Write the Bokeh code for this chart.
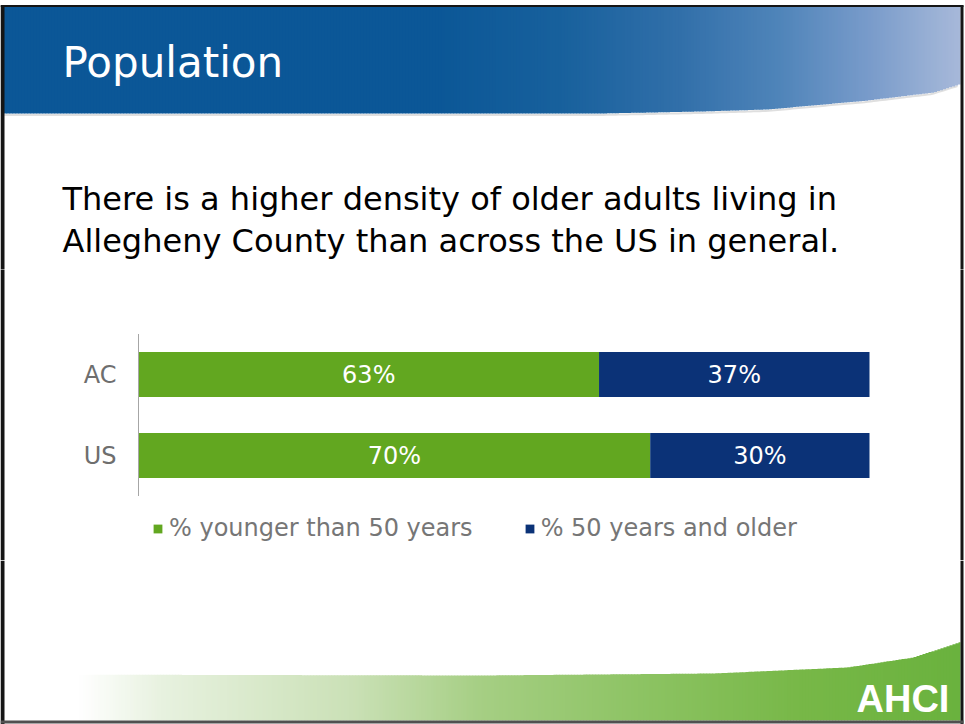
import numpy as np
from bokeh.plotting import figure
from bokeh.models import (Range1d, FactorRange, Legend, LegendItem, ColumnDataSource,
                          CategoricalAxis)
from bokeh.layouts import column
from bokeh.core.properties import value
from bokeh.embed import file_html
from bokeh.resources import INLINE

# ---------------- data ----------------
categories = ["AC", "US"]
younger = [63, 70]
older = [37, 30]
series_labels = ["% younger than 50 years", "% 50 years and older"]
title_text = "Population"
subtitle_lines = [
    "There is a higher density of older adults living in",
    "Allegheny County than across the US in general.",
]
logo_text = "AHCI"

# ---------------- style ----------------
GREEN = "#62a720"
NAVY = "#0b3277"
FONT = "DejaVu Sans"
W = 965
BORDER = "#151515"


def blank(h, y_top, y_bottom):
    p = figure(width=W, height=h, x_range=Range1d(0, W),
               y_range=Range1d(y_bottom, y_top),
               output_backend="svg", toolbar_location=None,
               x_axis_location=None, y_axis_location=None, min_border=0,
               frame_align=False)
    p.outline_line_color = None
    for g in p.grid:
        g.visible = False
    p.background_fill_color = "white"
    p.border_fill_color = "white"
    return p


def interp_colors(xs, stop_x, stop_c):
    arr = np.array(stop_c, dtype=float)
    r = np.interp(xs, stop_x, arr[:, 0])
    g = np.interp(xs, stop_x, arr[:, 1])
    b = np.interp(xs, stop_x, arr[:, 2])
    return ["#%02x%02x%02x" % (int(a), int(c), int(d)) for a, c, d in zip(r, g, b)]


src = ColumnDataSource(dict(
    cat=categories,
    young=younger,
    total=[a + b for a, b in zip(younger, older)],
    young_mid=[a / 2 for a in younger],
    old_mid=[a + b / 2 for a, b in zip(younger, older)],
    young_lbl=["%d%%" % v for v in younger],
    old_lbl=["%d%%" % v for v in older],
))

# ---------------- header (page rows 0..269) ----------------
HDR_H = 269
hdr = blank(HDR_H, 0, HDR_H)
step = 3.0
hx = np.arange(3, 960, step)
hcol = interp_colors(hx + step / 2,
                     [0, 430, 560, 680, 780, 870, 965],
                     [(11, 87, 151), (11, 87, 151), (24, 97, 157), (50, 112, 170),
                      (80, 133, 186), (122, 156, 203), (170, 187, 219)])
hbot = np.interp(hx + step / 2, [0, 600, 700, 767, 867, 933, 965],
                 [113, 113, 111, 109, 100, 92, 82])
hdr.line(x=hx, y=hbot + 1.5, line_color="#bfbfbf", line_alpha=0.5, line_width=2)
hdr.quad(left=hx, right=np.minimum(hx + step + 0.6, 960), top=np.full_like(hx, 6.5),
         bottom=hbot, fill_color=hcol, line_color=None)
hdr.text(x=[62], y=[62], text=[title_text], text_font=value(FONT),
         text_font_size="42px", text_color="white", text_baseline="alphabetic")
hdr.text(x=[62, 62], y=[198, 240], text=subtitle_lines, text_font=value(FONT),
         text_font_size="32px", text_color="#000000", text_baseline="alphabetic")
hdr.segment(x0=[2, 961.5, 0], y0=[5, 5, 5.5], x1=[2, 961.5, 963],
            y1=[HDR_H, HDR_H, 5.5], line_color=BORDER, line_width=[4, 3, 2])

# ---------------- chart (page rows 269..560) ----------------
CH_TOP, CH_BOT = 269, 560
PXPP = (869 - 138) / 100.0          # pixels per percentage point
CAT_PX = 81.0                        # pixels per category band
ch = figure(width=W, height=CH_BOT - CH_TOP,
            x_range=Range1d(-138 / PXPP, 100 + (W - 869) / PXPP),
            y_range=FactorRange(factors=categories[::-1],
                                range_padding=((CH_BOT - CH_TOP) / CAT_PX - 2) / 2),
            output_backend="svg", toolbar_location=None,
            x_axis_location=None, y_axis_location=None, min_border=0,
            frame_align=False)
ch.outline_line_color = None
for g in ch.grid:
    g.visible = False
ch.background_fill_color = "white"
ch.border_fill_color = "white"
ch.extra_x_ranges = {"px": Range1d(0, W)}

r1 = ch.hbar(y="cat", left=0, right="young", height=0.556, fill_color=GREEN,
             line_color=None, source=src)
r2 = ch.hbar(y="cat", left="young", right="total", height=0.556, fill_color=NAVY,
             line_color=None, source=src)
ch.text(x="young_mid", y="cat", text="young_lbl", source=src, text_font=value(FONT),
        text_font_size="24px", text_color="white", text_align="center",
        text_baseline="middle")
ch.text(x="old_mid", y="cat", text="old_lbl", source=src, text_font=value(FONT),
        text_font_size="24px", text_color="white", text_align="center",
        text_baseline="middle")

# value-axis baseline spanning the two category bands (synthetic 0..2)
ch.segment(x0=[0], y0=[0], x1=[0], y1=[len(categories)], line_color="#a6a6a6",
           line_width=1)

ax = CategoricalAxis(fixed_location=0)
ax.axis_line_color = None
ax.major_tick_line_color = None
ax.minor_tick_line_color = None
ax.major_tick_out = 0
ax.major_tick_in = 0
ax.major_label_standoff = 22
ax.major_label_text_font = FONT
ax.major_label_text_font_size = "24px"
ax.major_label_text_color = "#6e6e6e"
ch.add_layout(ax, "left")

ch.segment(x0=[2, 961.5], y0=[-5, -5], x1=[2, 961.5], y1=[10, 10],
           line_color=BORDER, line_width=[4, 3], x_range_name="px")

legend = Legend(items=[LegendItem(label=value(series_labels[0]), renderers=[r1]),
                       LegendItem(label=value(series_labels[1]), renderers=[r2])],
                orientation="horizontal", location=(152, 18),
                glyph_width=11, glyph_height=11, label_standoff=6, spacing=51,
                label_height=28, label_text_font=FONT, label_text_font_size="24px",
                label_text_color="#767676", border_line_color=None,
                background_fill_alpha=0, margin=0, padding=0)
ch.add_layout(legend)

# ---------------- footer (page rows 560..724) ----------------
ft = blank(724 - CH_BOT, CH_BOT, 724)
fx = np.arange(4, 960, step)
fcol = interp_colors(fx + step / 2,
                     [40, 80, 160, 350, 480, 650, 800, 965],
                     [(255, 255, 255), (255, 255, 255), (232, 242, 224), (203, 225, 183),
                      (166, 207, 132), (140, 195, 98), (120, 184, 72), (106, 178, 62)])
ftop = np.interp(fx + step / 2, [0, 480, 713, 847, 913, 965],
                 [674, 675, 673, 667, 657, 640])
ft.quad(left=fx, right=np.minimum(fx + step + 0.6, 960), top=ftop,
        bottom=np.full_like(fx, 720.0), fill_color=fcol, line_color=None)
ft.text(x=[856], y=[698], text=[logo_text], text_font=value("Liberation Sans"),
        text_font_style="bold", text_font_size="38px", text_color="white",
        text_baseline="alphabetic")
ft.segment(x0=[2, 961.5, 0], y0=[CH_BOT, CH_BOT, 721.5], x1=[2, 961.5, 963],
           y1=[724, 724, 721.5], line_color=[BORDER, BORDER, "#505050"],
           line_width=[4, 3, 3])

layout = column(hdr, ch, ft, spacing=0)
open("out.html", "w").write(file_html(layout, INLINE))
